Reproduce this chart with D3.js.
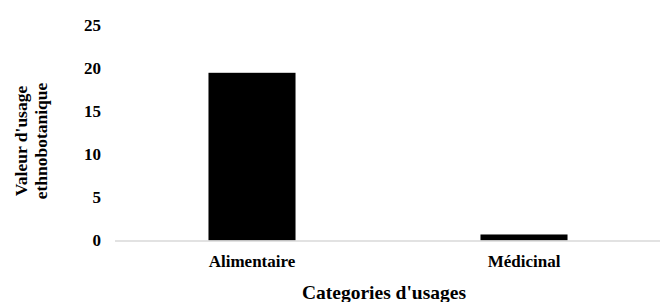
<!DOCTYPE html>
<html>
<head>
<meta charset="utf-8">
<script src="https://cdn.jsdelivr.net/npm/d3@7"></script>
<style>
  body { margin: 0; background: #fff; }
  text { font-family: "Liberation Serif", "Times New Roman", serif; font-weight: bold; fill: #000; }
</style>
</head>
<body>
<svg width="670" height="302"></svg>
<script>
// data
var categories = ["Alimentaire", "Médicinal"];
var values = [19.5, 0.7];
var yTicks = [0, 5, 10, 15, 20, 25];

var svg = d3.select("svg");

var x = d3.scaleBand()
    .domain(categories)
    .range([116, 660])
    .paddingInner(0.68)
    .paddingOuter(0.34);

var y = d3.scaleLinear()
    .domain([0, 25])
    .range([240.5, 25.5]);

// bars
svg.append("g")
    .selectAll("rect")
    .data(categories)
    .enter().append("rect")
    .attr("x", function (d) { return x(d); })
    .attr("width", x.bandwidth())
    .attr("y", function (d, i) { return y(values[i]); })
    .attr("height", function (d, i) { return y(0) - y(values[i]); })
    .style("fill", "#000");

// baseline
svg.append("line")
    .attr("x1", 115).attr("x2", 660)
    .attr("y1", y(0) + 0.5).attr("y2", y(0) + 0.5)
    .style("stroke", "#d9d9d9")
    .style("stroke-width", 1.5);

// y axis labels
var yAxis = svg.append("g")
    .attr("transform", "translate(101,0)")
    .call(d3.axisLeft(y).tickValues(yTicks).tickSize(0).tickPadding(0));
yAxis.select(".domain").remove();
yAxis.selectAll("text")
    .style("font-size", "17px")
    .style("font-family", "Liberation Serif")
    .style("font-weight", "bold")
    .attr("fill", "#000");

// x labels
var xAxis = svg.append("g")
    .attr("transform", "translate(0," + y(0) + ")")
    .call(d3.axisBottom(x).tickSize(0));
xAxis.select(".domain").remove();
xAxis.selectAll("text")
    .attr("y", 26.5)
    .attr("dy", 0)
    .style("font-size", "17px")
    .style("font-family", "Liberation Serif")
    .style("font-weight", "bold")
    .attr("fill", "#000");

// axis titles
svg.append("text")
    .attr("x", 384)
    .attr("y", 299)
    .attr("text-anchor", "middle")
    .style("font-size", "19.5px")
    .text("Categories d'usages");

var yTitle = svg.append("text")
    .attr("transform", "translate(0,141) rotate(-90)")
    .attr("text-anchor", "middle")
    .style("font-size", "17.5px");
yTitle.append("tspan").attr("x", 0).attr("y", 27).text("Valeur d'usage");
yTitle.append("tspan").attr("x", 0).attr("y", 47).text("ethnobotanique");
</script>
</body>
</html>
